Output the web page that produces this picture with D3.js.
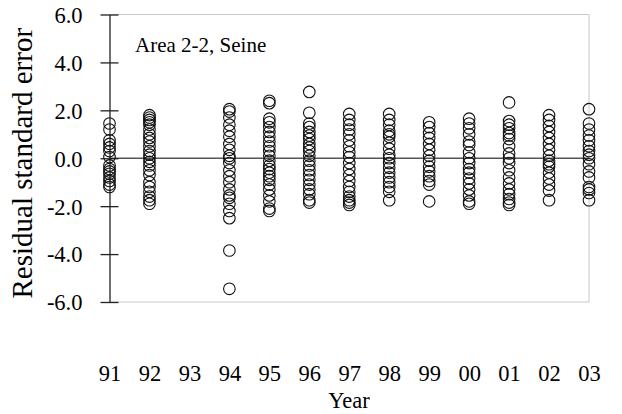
<!DOCTYPE html>
<html>
<head>
<meta charset="utf-8">
<script src="https://cdn.jsdelivr.net/npm/d3@7"></script>
<style>
  html, body { margin: 0; padding: 0; background: #fff; }
  svg { display: block; }
  text { font-family: "Liberation Serif", "Times New Roman", serif; fill: #000; }
</style>
</head>
<body>
<svg id="chart" width="622" height="414"></svg>
<script>
// Year categories along the x axis
const years = ["91", "92", "93", "94", "95", "96", "97", "98", "99", "00", "01", "02", "03"];
const yTicks = [-6, -4, -2, 0, 2, 4, 6];

// Residual standard errors per year
const r91 = [1.45, 1.2, 0.75, 0.6, 0.45, 0.3, 0.05, -0.3, -0.45, -0.55, -0.65, -0.8, -0.95, -1.1, -1.2];
const r92 = [1.8, 1.7, 1.6, 1.5, 1.4, 1.2, 1.0, 0.85, 0.7, 0.5, 0.3, 0.15, 0.0, -0.15, -0.3, -0.5, -0.7, -1.0, -1.2, -1.4, -1.6, -1.75, -1.9];
const r93 = [];
const r94 = [2.05, 1.95, 1.7, 1.4, 1.15, 0.9, 0.6, 0.35, 0.1, 0.0, -0.2, -0.5, -0.75, -1.0, -1.3, -1.55, -1.65, -1.9, -2.2, -2.5, -3.85, -5.45];
const r95 = [2.4, 2.3, 1.65, 1.5, 1.3, 1.1, 0.9, 0.7, 0.5, 0.3, 0.1, -0.1, -0.3, -0.45, -0.6, -0.75, -0.9, -1.1, -1.3, -1.55, -1.8, -2.1, -2.2];
const r96 = [2.77, 1.9, 1.45, 1.3, 1.1, 0.95, 0.8, 0.6, 0.45, 0.3, 0.1, -0.1, -0.3, -0.5, -0.7, -0.9, -1.1, -1.3, -1.5, -1.75, -1.85];
const r97 = [1.85, 1.6, 1.4, 1.2, 1.0, 0.75, 0.5, 0.25, 0.05, -0.2, -0.45, -0.7, -0.95, -1.2, -1.4, -1.6, -1.75, -1.85, -1.95];
const r98 = [1.85, 1.6, 1.4, 1.15, 1.0, 0.9, 0.65, 0.4, 0.15, 0.0, -0.2, -0.4, -0.6, -0.8, -1.0, -1.2, -1.4, -1.75];
const r99 = [1.5, 1.3, 1.05, 0.85, 0.6, 0.35, 0.1, -0.1, -0.35, -0.55, -0.75, -0.95, -1.1, -1.8];
const r00 = [1.65, 1.45, 1.25, 1.0, 0.7, 0.55, 0.25, 0.0, -0.2, -0.45, -0.6, -0.85, -1.05, -1.3, -1.55, -1.8, -1.9];
const r01 = [2.33, 1.55, 1.4, 1.25, 1.05, 0.95, 0.8, 0.5, 0.2, 0.0, -0.2, -0.5, -0.8, -1.05, -1.3, -1.5, -1.7, -1.85, -1.95];
const r02 = [1.8, 1.6, 1.35, 1.1, 0.85, 0.6, 0.35, 0.1, -0.1, -0.25, -0.35, -0.6, -0.85, -1.1, -1.35, -1.75];
const r03 = [2.05, 1.45, 1.2, 0.95, 0.75, 0.5, 0.3, 0.15, 0.0, -0.25, -0.55, -0.8, -1.2, -1.3, -1.45, -1.75];

const residuals = [r91, r92, r93, r94, r95, r96, r97, r98, r99, r00, r01, r02, r03];
const points = years.flatMap((yr, i) => residuals[i].map(v => ({ year: yr, value: v })));

const svg = d3.select("#chart");
const plotLeft = 109.5, plotRight = 589, plotTop = 14.5, plotBottom = 302;

const x = d3.scalePoint().domain(years).range([plotLeft, plotRight]).padding(0);
const y = d3.scaleLinear().domain([-6, 6]).range([plotBottom, plotTop]);

// Light frame on top, right and bottom of the plot area
svg.append("path")
  .attr("d", `M${plotLeft},${plotTop}H${plotRight}V${plotBottom}H${plotLeft}`)
  .attr("fill", "none")
  .attr("stroke", "#c8c8c8")
  .attr("stroke-width", 1);

// Zero reference line
svg.append("line")
  .attr("x1", plotLeft).attr("x2", plotRight)
  .attr("y1", y(0)).attr("y2", y(0))
  .attr("stroke", "#555")
  .attr("stroke-width", 1.3);

// Left axis with ticks crossing the line
const yAxis = svg.append("g")
  .attr("transform", `translate(${plotLeft},0)`)
  .call(d3.axisLeft(y).tickValues(yTicks).tickSize(8).tickSizeOuter(0).tickFormat(d3.format(".1f")));
yAxis.select(".domain").attr("stroke", "#222").attr("stroke-width", 1.3);
yAxis.selectAll(".tick line").attr("stroke", "#222").attr("stroke-width", 1.3).attr("x2", 9).attr("x1", -9);
yAxis.selectAll(".tick text")
  .attr("x", -27)
  .attr("dy", "0.35em")
  .style("font-family", "'Liberation Serif', serif")
  .style("font-size", "22.5px")
  .text(d => d3.format(".1f")(d).replace("−", "-"));

// Year labels beneath the plot
const xAxis = svg.append("g")
  .attr("transform", `translate(0,${plotBottom})`)
  .call(d3.axisBottom(x).tickSize(0).tickPadding(0));
xAxis.select(".domain").remove();
xAxis.selectAll(".tick text")
  .attr("y", 79)
  .attr("dy", 0)
  .style("font-family", "'Liberation Serif', serif")
  .style("font-size", "22.5px");

// Residual points
svg.append("g")
  .selectAll("circle")
  .data(points)
  .join("circle")
  .attr("cx", d => x(d.year))
  .attr("cy", d => y(d.value))
  .attr("r", 5.8)
  .attr("fill", "none")
  .attr("stroke", "#111")
  .attr("stroke-width", 1.1);

// Titles and annotation
svg.append("text")
  .attr("x", 349).attr("y", 408)
  .attr("text-anchor", "middle")
  .style("font-size", "22.5px")
  .text("Year");

svg.append("text")
  .attr("transform", `translate(32,${(plotTop + plotBottom) / 2 + 5}) rotate(-90)`)
  .attr("text-anchor", "middle")
  .style("font-size", "29px")
  .text("Residual standard error");

svg.append("text")
  .attr("x", 135).attr("y", 52)
  .style("font-size", "21px")
  .text("Area 2-2, Seine");
</script>
</body>
</html>
